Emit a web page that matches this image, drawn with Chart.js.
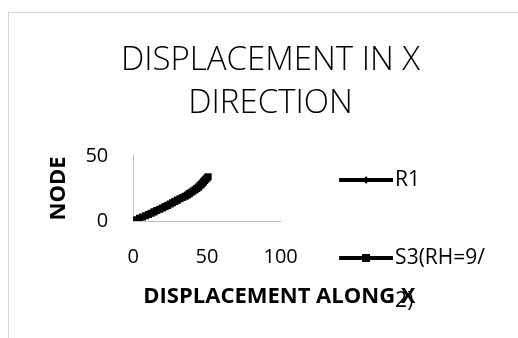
<!DOCTYPE html>
<html>
<head>
<meta charset="utf-8">
<script src="https://cdn.jsdelivr.net/npm/chart.js@4"></script>
<style>
  html, body { margin: 0; padding: 0; background: #fff; }
  #wrap { position: relative; width: 518px; height: 338px; overflow: hidden; }
  #frame { position: absolute; left: 8px; top: 12px; width: 600px; height: 400px;
           border-left: 1px solid #d9d9d9; border-top: 1px solid #d9d9d9; }
  #myChart { position: absolute; left: 0; top: 0; }
</style>
</head>
<body>
<div id="wrap">
  <div id="frame"></div>
  <canvas id="myChart" width="518" height="338"></canvas>
</div>
<script>
// chart data (node number vs displacement along x)
const titleLines = ['DISPLACEMENT IN X', 'DIRECTION']
const xTitle = 'DISPLACEMENT ALONG X'
const yTitle = 'NODE'
const seriesNames = ['R1', ['S3(RH=9/', '2)']]
const nodes = [0,1,2,3,4,5,6,7,8,9,10,11,12,13,14,15,16,17,18,19,20,21,22,23,24,25,26,27,28,29,30,31,32,33,34]
const r1Disp = [0,2,4,6,7.9,9.8,11.7,13.6,15.5,17.5,19.3,21,22.8,24.5,26,27.5,29.2,31,32.8,34.5,36,37.3,38.6,39.9,41.2,42.5,43.7,44.6,45.4,46.2,47,47.8,48.6,49.4,50.2]
const s3Disp = [0,2.1,4.2,6.3,8.3,10.3,12.2,14.1,16,18,19.8,21.6,23.4,25.1,26.7,28.2,29.9,31.7,33.5,35.2,36.7,38,39.3,40.6,41.9,43.1,44.3,45.2,46,46.8,47.6,48.4,49.2,50,50.8]
const xTicks = [0, 50, 100]
const yTicks = [0, 50]

const toPoints = arr => arr.map((d, i) => ({x: d, y: nodes[i]}))

// legend sample: thick line with the marker in the middle
function legendIcon(marker) {
    const c = document.createElement('canvas')
    c.width = 64; c.height = 12
    const g = c.getContext('2d')
    g.fillStyle = '#000'
    g.fillRect(10, 4, 54, 4)
    if (marker === 'rect') {
        g.fillRect(33, 2, 8, 8)
    } else {
        g.beginPath()
        g.moveTo(37, 2); g.lineTo(40, 6); g.lineTo(37, 10); g.lineTo(34, 6)
        g.closePath(); g.fill()
    }
    return c
}
const icons = [legendIcon('rectRot'), legendIcon('rect')]

const FONT = "'Open Sans', 'Liberation Sans', sans-serif"
Chart.defaults.color = '#000'
Chart.defaults.font.family = FONT

// legend sits lower than the default centring, and the x title overhangs the plot
const legendShift = 78
const layoutTweaks = {
    id: 'layoutTweaks',
    afterLayout(chart) {
        chart.legend.top += legendShift
        chart.legend.bottom += legendShift
    },
    afterDraw(chart) {
        const c = chart.ctx
        const area = chart.chartArea
        c.save()
        c.font = "bold 22px " + FONT
        c.fillStyle = '#000'
        c.textAlign = 'left'
        c.textBaseline = 'middle'
        c.fillText(xTitle, area.left + 10, area.bottom + 76)
        c.restore()
    }
}

const ctx = document.getElementById('myChart').getContext('2d')
const data = {
    datasets: [
        {
            label: seriesNames[0],
            data: toPoints(r1Disp),
            showLine: true,
            borderColor: '#000',
            backgroundColor: '#000',
            borderWidth: 4.5,
            pointStyle: 'rectRot',
            pointRadius: 3,
            pointBorderWidth: 0,
        },
        {
            label: seriesNames[1],
            data: toPoints(s3Disp),
            showLine: true,
            borderColor: '#000',
            backgroundColor: '#000',
            borderWidth: 4.5,
            pointStyle: 'rect',
            pointRadius: 5,
            pointBorderWidth: 0,
        },
    ],
}

const config = {
    type: 'scatter',
    data: data,
    plugins: [layoutTweaks],
    options: {
        responsive: false,
        animation: false,
        layout: { padding: { left: 46, right: 23, top: 31, bottom: 22 } },
        plugins: {
            tooltip: { enabled: false },
            title: {
                display: true,
                text: titleLines,
                color: '#000',
                font: { size: 33, weight: 300, family: FONT, lineHeight: 1.3 },
                padding: { top: 8, bottom: 31 },
            },
            legend: {
                position: 'right',
                maxWidth: 400,
                labels: {
                    usePointStyle: true,
                    pointStyleWidth: 47,
                    padding: 57,
                    color: '#000',
                    font: { size: 21, family: FONT, lineHeight: 2.05 },
                    generateLabels: chart => chart.data.datasets.map((ds, i) => ({
                        text: ds.label,
                        pointStyle: icons[i],
                        fillStyle: '#000',
                        strokeStyle: '#000',
                        lineWidth: 0,
                        datasetIndex: i,
                    })),
                },
            },
        },
        scales: {
            x: {
                type: 'linear',
                min: 0,
                max: 100,
                afterBuildTicks: axis => { axis.ticks = xTicks.map(v => ({value: v})) },
                afterFit: axis => { axis.height += 23 },
                grid: { display: false, drawTicks: false },
                border: { color: '#bfbfbf', width: 1 },
                ticks: { padding: 24, maxRotation: 0, autoSkip: false, color: '#000', font: { size: 20 } },
            },
            y: {
                type: 'linear',
                min: 0,
                max: 50,
                afterBuildTicks: axis => { axis.ticks = yTicks.map(v => ({value: v})) },
                grid: { display: false, drawTicks: false },
                border: { color: '#bfbfbf', width: 1 },
                ticks: { padding: 25, autoSkip: false, color: '#000', font: { size: 20 } },
                title: {
                    display: true,
                    text: yTitle,
                    color: '#000',
                    font: { size: 22, weight: 'bold' },
                    padding: { top: 0, bottom: -12 },
                },
            },
        },
    },
}

const nodeChart = new Chart(ctx, config)
</script>
</body>
</html>
